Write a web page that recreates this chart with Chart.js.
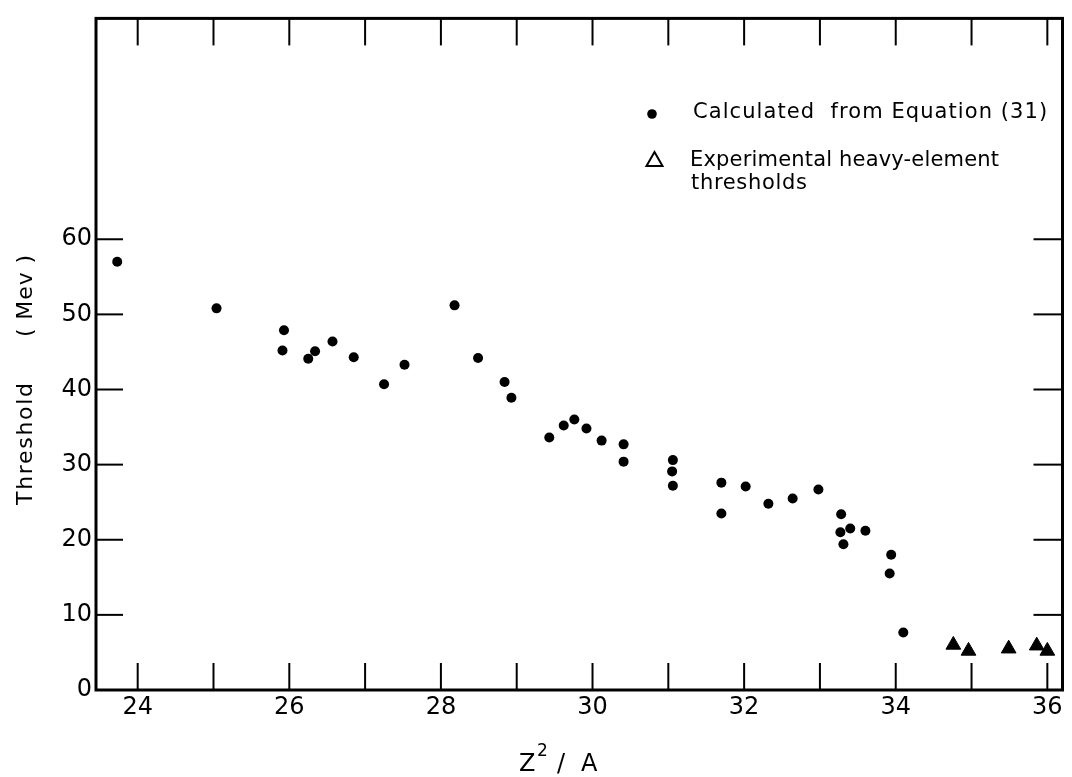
<!DOCTYPE html>
<html lang="en">
<head>
<meta charset="UTF-8">
<title>Threshold vs Z²/A</title>
<script src="https://cdn.jsdelivr.net/npm/chart.js"></script>
<style>
  body { margin: 0; background: #fff; overflow: hidden; }
  #wrap { width: 1072px; height: 777px; position: relative; }
</style>
</head>
<body>
<div id="wrap"><canvas id="chart"></canvas></div>
<script>
  // values
  const calcX = [23.73, 25.04, 25.93, 25.91, 26.25, 26.34, 26.57, 26.85, 27.25, 27.52,
                 28.18, 28.49, 28.84, 28.93, 29.43, 29.62, 29.76, 29.92, 30.12, 30.41,
                 30.41, 31.06, 31.05, 31.06, 31.70, 31.70, 32.02, 32.32, 32.64, 32.98,
                 33.28, 33.27, 33.40, 33.31, 33.60, 33.94, 33.92, 34.10];
  const calcY = [57.0, 50.8, 47.9, 45.2, 44.1, 45.1, 46.4, 44.3, 40.7, 43.3,
                 51.2, 44.2, 41.0, 38.9, 33.6, 35.2, 36.0, 34.8, 33.2, 32.7,
                 30.4, 30.6, 29.1, 27.2, 27.6, 23.5, 27.1, 24.8, 25.5, 26.7,
                 23.4, 21.0, 21.5, 19.4, 21.2, 18.0, 15.5, 7.65];
  const expX = [34.76, 34.96, 35.49, 35.86, 36.0];
  const expY = [6.0, 5.2, 5.5, 5.9, 5.2];

  const xLabels = [24, 26, 28, 30, 32, 34, 36];
  const yLabels = [0, 10, 20, 30, 40, 50, 60];

  const FONT = "'DejaVu Sans', sans-serif";

  function toPoints(xs, ys) {
    return xs.map((x, i) => ({ x: x, y: ys[i] }));
  }

  function line(ctx, x1, y1, x2, y2) {
    ctx.beginPath();
    ctx.moveTo(x1, y1);
    ctx.lineTo(x2, y2);
    ctx.stroke();
  }

  // text stretched to the width it has in the scan
  function spaced(ctx, text, x, y, width) {
    ctx.letterSpacing = '0px';
    const w = ctx.measureText(text).width;
    const ls = (width - w) / Math.max(1, text.length - 1);
    ctx.letterSpacing = ls.toFixed(2) + 'px';
    ctx.fillText(text, x, y);
    ctx.letterSpacing = '0px';
  }

  const framePlugin = {
    id: 'frame',
    afterDraw(chart) {
      const ctx = chart.ctx;
      const a = chart.chartArea;
      const sx = chart.scales.x, sy = chart.scales.y;
      ctx.save();
      ctx.strokeStyle = '#000';
      ctx.fillStyle = '#000';

      // inward ticks on all four sides
      ctx.lineWidth = 2;
      sx.ticks.forEach(t => {
        if (!Number.isInteger(t.value)) return;
        const px = sx.getPixelForValue(t.value);
        line(ctx, px, a.bottom, px, a.bottom - 27);
        line(ctx, px, a.top, px, a.top + 27);
      });
      sy.ticks.forEach(t => {
        if (t.value === 0 || !yLabels.includes(t.value)) return;
        const py = sy.getPixelForValue(t.value);
        line(ctx, a.left, py, a.left + 27, py);
        line(ctx, a.right, py, a.right - 29, py);
      });

      ctx.lineWidth = 3;
      ctx.strokeRect(a.left, a.top, a.right - a.left, a.bottom - a.top);

      // legend
      ctx.textBaseline = 'alphabetic';
      ctx.textAlign = 'left';
      ctx.font = '21px ' + FONT;
      ctx.beginPath();
      ctx.arc(652, 114, 4.8, 0, Math.PI * 2);
      ctx.fill();
      spaced(ctx, 'Calculated  from Equation (31)', 693, 118, 354);

      ctx.lineWidth = 2;
      ctx.beginPath();
      ctx.moveTo(654.5, 152);
      ctx.lineTo(662.5, 166);
      ctx.lineTo(646.5, 166);
      ctx.closePath();
      ctx.stroke();
      spaced(ctx, 'Experimental heavy-element', 690, 166, 309);
      spaced(ctx, 'thresholds', 691, 189, 116);

      // y title
      ctx.save();
      ctx.translate(32, 0);
      ctx.rotate(-Math.PI / 2);
      ctx.textAlign = 'left';
      ctx.font = '22px ' + FONT;
      spaced(ctx, 'Threshold', -505, 0, 122);
      spaced(ctx, '( Mev )', -337, 0, 82);
      ctx.restore();

      // x title: Z^2 / A
      ctx.font = '24px ' + FONT;
      ctx.fillText('Z', 519, 771);
      ctx.font = '17px ' + FONT;
      ctx.fillText('2', 537, 756);
      ctx.font = '24px ' + FONT;
      ctx.fillText('/', 557, 771);
      ctx.fillText('A', 581, 771);

      ctx.restore();
    }
  };

  new Chart(document.getElementById('chart'), {
    type: 'scatter',
    data: {
      datasets: [
        {
          label: 'Calculated from Equation (31)',
          data: toPoints(calcX, calcY),
          pointStyle: 'circle',
          pointRadius: 5,
          backgroundColor: '#000',
          borderWidth: 0
        },
        {
          label: 'Experimental heavy-element thresholds',
          data: toPoints(expX, expY),
          pointStyle: 'triangle',
          pointRadius: 8.5,
          backgroundColor: '#000',
          borderColor: '#000',
          borderWidth: 1
        }
      ]
    },
    options: {
      responsive: true,
      maintainAspectRatio: false,
      animation: false,
      layout: { padding: { top: 8, right: 4, left: 0, bottom: 0 } },
      plugins: {
        legend: { display: false },
        tooltip: { enabled: false }
      },
      scales: {
        x: {
          type: 'linear',
          min: 23.45,
          max: 36.2,
          afterFit(s) { s.height = 87; },
          grid: { display: false, drawTicks: false },
          border: { display: false },
          ticks: {
            stepSize: 1,
            includeBounds: false,
            autoSkip: false,
            maxRotation: 0,
            padding: 3,
            color: '#000',
            font: { family: FONT, size: 24 },
            callback: v => xLabels.includes(v) ? v : ''
          }
        },
        y: {
          min: 0,
          max: 89.4,
          afterFit(s) { s.width = 96; },
          grid: { display: false, drawTicks: false },
          border: { display: false },
          ticks: {
            stepSize: 10,
            includeBounds: false,
            autoSkip: false,
            padding: 4,
            color: '#000',
            font: { family: FONT, size: 24 },
            callback: v => yLabels.includes(v) ? v : ''
          }
        }
      }
    },
    plugins: [framePlugin]
  });
</script>
</body>
</html>
